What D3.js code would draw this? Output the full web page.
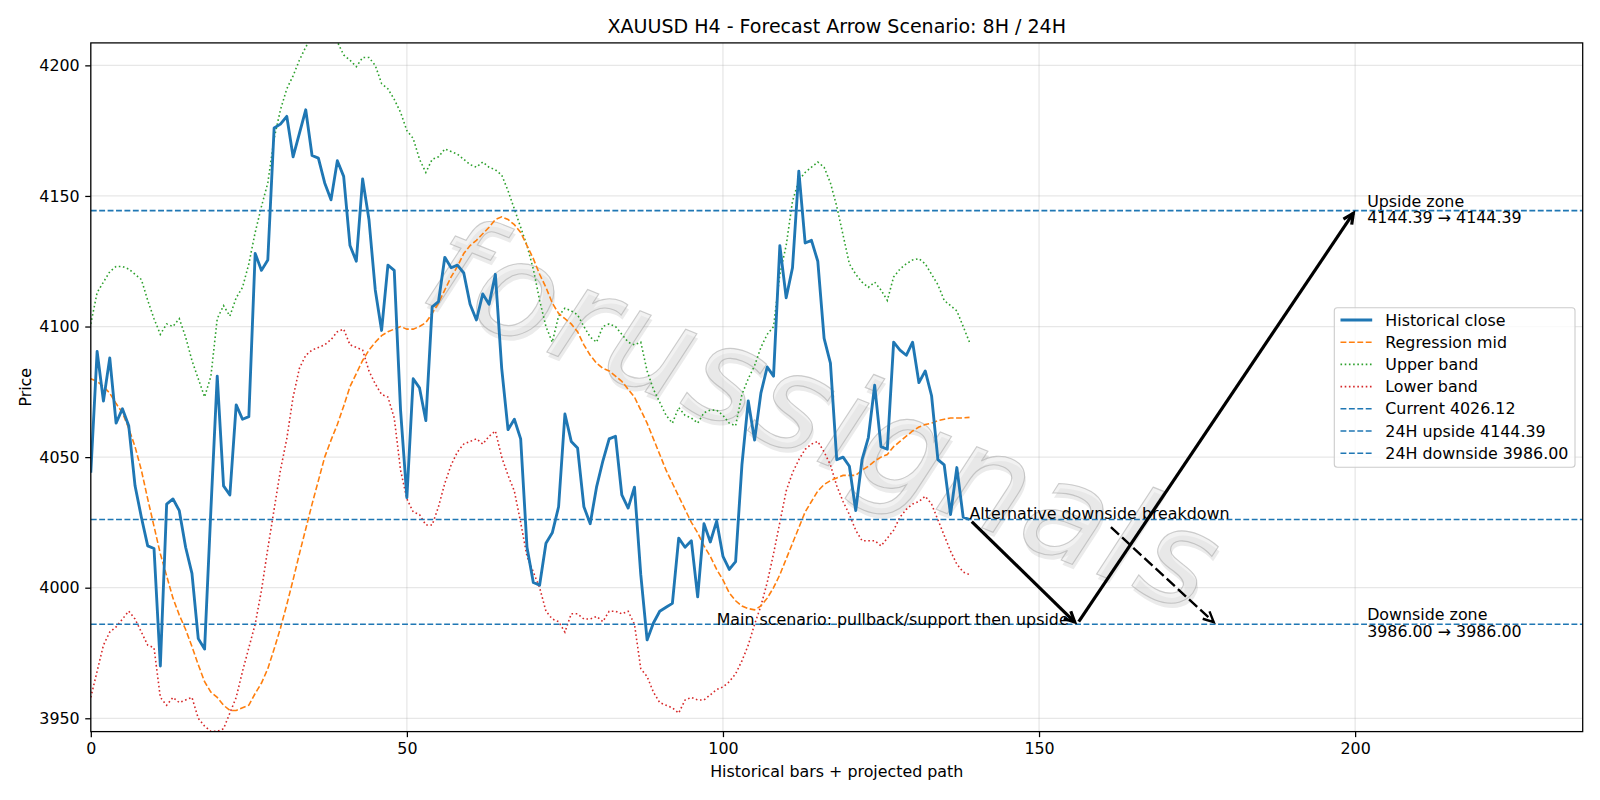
<!DOCTYPE html>
<html><head><meta charset="utf-8">
<script src="https://cdn.jsdelivr.net/npm/d3@7/dist/d3.min.js"></script>
<style>
html,body{margin:0;padding:0;background:#fff;}
svg{display:block;font-family:"DejaVu Sans",sans-serif;}
</style></head>
<body>
<svg id="chart" width="1600" height="800"></svg>
<script>
// ---------------- DATA ----------------
const historicalClose = [4044,4090.5,4071.5,4088,4063,4068.5,4062,4039,4027,4016,4015,3970,4032,4034,4029.5,4015.5,4005.5,3980.5,3976.5,4030,
4081,4039,4035.5,4070,4064.5,4065.5,4128,4121.5,4125.5,4176,4177.5,4180.5,4165,4174,4183,4165.5,4164.5,4155,4148.5,4163.5,
4157.5,4131,4125,4156.5,4141,4114,4098.5,4123.5,4121.5,4068,4034.5,4080,4076.5,4064,4107.5,4109.5,4126.5,4122.5,4123.5,4120.5,
4108.5,4102.5,4112.5,4108.5,4120,4084,4060.5,4064.5,4057,4015.5,4002,4001,4017,4021,4031,4066.5,4056,4053.5,4031,4024.5,
4038.5,4048.5,4057,4058,4035.5,4030.5,4038.5,4005,3980,3986.5,3991,3992.5,3994,4019,4015.5,4018,3996.5,4024.5,4017.5,4025.5,
4012,4007,4010,4047,4071.5,4056.5,4074.5,4084.5,4081,4131,4111,4122.5,4159.5,4132,4133,4125,4095.5,4086,4049,4050,
4046.5,4029.5,4049,4057.5,4077.5,4054,4053,4094,4091,4089,4094,4078.5,4083,4073.5,4049,4047,4028,4046,4027,4026.12];

const regressionMid = [4080,4079,4077,4074.5,4070.5,4067,4061,4054,4045,4034,4023.5,4013,4004.5,3996,3989.5,3984,3977.5,3970.5,3964,3960,
3958,3955,3953,3953,3954,3955,3959.5,3963.5,3969,3976.5,3984.5,3993.5,4003,4013,4022.5,4032,4041,4050,4056.5,4062.5,
4069.5,4077,4082,4087,4091,4094,4096.5,4098,4099,4100,4099,4099,4100,4101.5,4105,4109,4114,4119,4123,4128,
4131,4133,4135.5,4138,4141,4142,4141,4139,4136,4131,4126,4120,4115,4109,4105,4103,4101,4098,4093,4089,
4086,4084,4083,4081,4079,4076,4073,4068,4063,4057,4051,4045,4040,4035,4030,4025,4021,4016,4012,4007,
4003,3998,3995,3993,3992,3991.5,3993,3996,4000,4005,4011,4017,4023,4029,4033,4037,4039.5,4041,4042,4043,
4043,4043,4045,4046.5,4048.5,4050,4051,4054,4056,4058,4060,4061.5,4062.5,4063,4064,4064.5,4065,4065,4065,4065.2];

const upperBand = [4101,4113,4117,4121,4123,4123,4122,4120,4118,4110,4103,4097,4101,4100,4103,4096,4087,4080,4073,4081,
4103,4108,4104,4111,4115,4124,4136,4146,4155,4172,4183,4191,4196,4202,4207,4211,4214,4215,4213,4209,
4204,4202,4199.5,4203,4203,4200,4193,4191,4187,4182,4175,4172,4164,4159,4164,4165,4168,4167,4166,4164,
4162,4161,4163,4161,4160,4158,4152,4145,4138,4131,4122,4110,4100,4094,4104,4107,4106,4104.5,4100,4096,
4094,4100,4101,4100,4097,4094,4093,4094,4083,4076,4071,4066,4063,4069,4066,4065,4063,4067,4068,4068,
4066,4063,4062,4074,4080,4085,4092,4097,4100,4120,4131,4148,4156,4159,4161,4163,4161,4155,4146,4135,
4124,4120,4117,4115,4117,4114,4110,4119,4122,4124,4125.5,4126,4124,4120,4116,4110,4108,4106,4100,4094];

const lowerBand = [3958,3968,3978,3983,3985,3988,3991,3988,3983,3978,3977,3958,3955,3958,3956,3957,3958,3950,3947,3945,
3945,3946,3952,3958,3968,3977,3986,3999,4015,4030,4045,4057,4073,4084,4089,4091,4092,4093,4095,4098,
4099,4093,4092,4091,4083,4078,4074,4073,4065,4045,4034,4029,4028,4024,4024,4031,4040,4047,4052,4055,
4056,4057,4055,4058,4060,4050,4043,4037,4025,4012,4006,4000,3991,3988,3987,3983,3990,3990,3988,3988,
3989,3987,3991,3991,3990,3991,3986,3969,3966,3960,3956,3955,3954,3952,3957,3958,3957,3957,3959,3961,
3962,3964,3967,3972,3978,3986,3993,4002,4013,4025,4037,4044,4049,4053,4055,4056,4052,4047,4039,4033,
4028,4022,4018,4018,4018,4016,4019,4022,4027,4030,4032,4033,4035,4032,4026,4020,4014,4009,4006,4005];

const currentPrice = 4026.12;
const upsideLevel = 4144.39;
const downsideLevel = 3986.00;

const mainPathX = [139, 156, 200];
const mainPathY = [4026.12, 3986.00, 4144.39];
const altPathX = [161, 178];
const altPathY = [4024, 3986.00];

const xTicks = [0, 50, 100, 150, 200];
const yTicks = [3950, 4000, 4050, 4100, 4150, 4200];
const xDomain = [0, 236];
const yDomain = [3944.9, 4208.6];

const legendLabels = ["Historical close","Regression mid","Upper band","Lower band",
  "Current 4026.12","24H upside 4144.39","24H downside 3986.00"];

// ---------------- LAYOUT ----------------
const W = 1600, H = 800;
const L = 90.8, R = 1582.7, T = 42.9, B = 731.6;
const C = {blue:"#1f77b4", orange:"#ff7f0e", green:"#2ca02c", red:"#d62728"};
const PT = 1600/14/72;          // px per point (figure 14x7 in)
const FS = 10*PT;               // 15.87 px
const LW1 = 1*PT;
const DASH = `${3.7*PT},${1.6*PT}`;
const DOT = `${1*PT},${1.65*PT}`;

const svg = d3.select("#chart");
const x = d3.scaleLinear().domain(xDomain).range([L, R]);
const y = d3.scaleLinear().domain(yDomain).range([B, T]);

svg.append("rect").attr("width", W).attr("height", H).attr("fill", "#fff");

svg.append("defs").append("clipPath").attr("id","clip")
  .append("rect").attr("x", L).attr("y", T).attr("width", R-L).attr("height", B-T);

// grid
const grid = svg.append("g");
grid.selectAll(".gx").data(xTicks).enter().append("line")
  .attr("x1", d=>x(d)).attr("x2", d=>x(d)).attr("y1", T).attr("y2", B)
  .attr("stroke", "#b0b0b0").attr("stroke-opacity", 0.3).attr("stroke-width", 0.8*PT);
grid.selectAll(".gy").data(yTicks).enter().append("line")
  .attr("x1", L).attr("x2", R).attr("y1", d=>y(d)).attr("y2", d=>y(d))
  .attr("stroke", "#b0b0b0").attr("stroke-opacity", 0.3).attr("stroke-width", 0.8*PT);

const plot = svg.append("g").attr("clip-path", "url(#clip)");

// watermark
const wm = plot.append("g").attr("transform", `translate(${(L+R)/2 - 16},${y(4063)}) rotate(22)`);
const wmStyle = t => t.attr("text-anchor","middle").attr("dominant-baseline","middle")
  .attr("font-size", 134).attr("font-style","italic").attr("font-weight", 200).attr("letter-spacing", 3);
wm.append("text").attr("x", 3).attr("y", 4).call(wmStyle)
  .attr("fill", "#666").attr("fill-opacity", 0.13).text("forussignals");
wm.append("text").attr("x", 0).attr("y", 0).call(wmStyle)
  .attr("fill", "#e6e6e6").attr("fill-opacity", 0.5).attr("stroke", "#a0a0a0").attr("stroke-opacity",0.5).attr("stroke-width", 1.1)
  .text("forussignals");

const mkLine = arr => d3.line().x((d,i)=>x(i)).y(d=>y(d))(arr);

// bands
plot.append("path").attr("d", mkLine(upperBand)).attr("fill","none").attr("stroke", C.green)
  .attr("stroke-width", LW1).attr("stroke-dasharray", DOT);
plot.append("path").attr("d", mkLine(lowerBand)).attr("fill","none").attr("stroke", C.red)
  .attr("stroke-width", LW1).attr("stroke-dasharray", DOT);
plot.append("path").attr("d", mkLine(regressionMid)).attr("fill","none").attr("stroke", C.orange)
  .attr("stroke-width", LW1).attr("stroke-dasharray", DASH);

// horizontal levels
[currentPrice, upsideLevel, downsideLevel].forEach(v => {
  plot.append("line").attr("x1", L).attr("x2", R).attr("y1", y(v)).attr("y2", y(v))
    .attr("stroke", C.blue).attr("stroke-width", LW1).attr("stroke-dasharray", DASH);
});

// close
plot.append("path").attr("d", mkLine(historicalClose)).attr("fill","none").attr("stroke", C.blue)
  .attr("stroke-width", 1.8*PT).attr("stroke-linejoin","round").attr("stroke-linecap","butt");

// arrows
function arrow(x0,y0,x1,y1,dashed){
  const px0=x(x0), py0=y(y0), px1=x(x1), py1=y(y1);
  const ang = Math.atan2(py1-py0, px1-px0);
  const s = 2*PT;
  const ax0 = px0 + s*Math.cos(ang), ay0 = py0 + s*Math.sin(ang);
  const ax1 = px1 - s*Math.cos(ang), ay1 = py1 - s*Math.sin(ang);
  const w = dashed ? 1.5*PT : 2*PT;
  const g = plot.append("g");
  g.append("line").attr("x1",ax0).attr("y1",ay0).attr("x2",ax1).attr("y2",ay1)
    .attr("stroke","#000").attr("stroke-width", w)
    .attr("stroke-dasharray", dashed? `${3.7*1.5*PT*1.25},${1.6*1.5*PT*1.1}`:null);
  const hl = 11.5, ha = 0.45;
  const p = [[ax1 - hl*Math.cos(ang-ha), ay1 - hl*Math.sin(ang-ha)],[ax1,ay1],[ax1 - hl*Math.cos(ang+ha), ay1 - hl*Math.sin(ang+ha)]];
  g.append("path").attr("d", d3.line()(p)).attr("fill","none").attr("stroke","#000")
    .attr("stroke-width", w).attr("stroke-linejoin","miter");
}
for (let k=0;k<mainPathX.length-1;k++) arrow(mainPathX[k],mainPathY[k],mainPathX[k+1],mainPathY[k+1],false);
arrow(altPathX[0],altPathY[0],altPathX[1],altPathY[1],true);

// annotation texts
const ann = svg.append("g").attr("font-size", FS).attr("fill","#000");
ann.append("text").attr("x", x(139)).attr("y", y(currentPrice)-0.5).text("Alternative downside breakdown");
ann.append("text").attr("x", x(99)).attr("y", y(downsideLevel)+0.5)
  .text("Main scenario: pullback/support then upside");
function zone(v, title, sub){
  const t = ann.append("text").attr("x", x(201.9)).attr("y", y(v));
  t.append("tspan").attr("x", x(201.9)).attr("dy", -3.8).text(title);
  t.append("tspan").attr("x", x(201.9)).attr("dy", 16.2).text(sub);
}
zone(upsideLevel, "Upside zone", "4144.39 \u2192 4144.39");
zone(downsideLevel, "Downside zone", "3986.00 \u2192 3986.00");

// axes
const xAxis = d3.axisBottom(x).tickValues(xTicks).tickSize(3.5*PT).tickPadding(3.5*PT).tickFormat(d3.format("d"));
const yAxis = d3.axisLeft(y).tickValues(yTicks).tickSize(3.5*PT).tickPadding(3.5*PT).tickFormat(d3.format("d"));
const gx = svg.append("g").attr("transform", `translate(0,${B})`).call(xAxis);
const gy = svg.append("g").attr("transform", `translate(${L},0)`).call(yAxis);
[gx, gy].forEach(g => {
  g.select(".domain").remove();
  g.selectAll(".tick line").attr("stroke","#000").attr("stroke-width",0.8*PT);
  g.selectAll(".tick text").attr("font-size", FS).attr("fill","#000").attr("font-family","DejaVu Sans");
});

// frame
svg.append("rect").attr("x", L).attr("y", T).attr("width", R-L).attr("height", B-T)
  .attr("fill","none").attr("stroke","#000").attr("stroke-width",0.8*PT);

// title & labels
svg.append("text").attr("x", (L+R)/2).attr("y", 33).attr("text-anchor","middle")
  .attr("font-size", 12*PT).text("XAUUSD H4 - Forecast Arrow Scenario: 8H / 24H");
svg.append("text").attr("x", (L+R)/2).attr("y", 777).attr("text-anchor","middle")
  .attr("font-size", FS).text("Historical bars + projected path");
svg.append("text").attr("transform", `translate(31,${(T+B)/2}) rotate(-90)`).attr("text-anchor","middle")
  .attr("font-size", FS).text("Price");

// legend
const lg = svg.append("g");
const lx = 1334.3, ly = 307.7, lw = 240.7, lh = 159.6;
lg.append("rect").attr("x", lx).attr("y", ly).attr("width", lw).attr("height", lh).attr("rx", 3)
  .attr("fill","#fff").attr("fill-opacity",0.8).attr("stroke","#cccccc").attr("stroke-width",1.1);
const legStyles = [
  {c:C.blue, w:1.8*PT, d:null},
  {c:C.orange, w:LW1, d:DASH},
  {c:C.green, w:LW1, d:DOT},
  {c:C.red, w:LW1, d:DOT},
  {c:C.blue, w:LW1, d:DASH},
  {c:C.blue, w:LW1, d:DASH},
  {c:C.blue, w:LW1, d:DASH}
];
legendLabels.forEach((lab, i) => {
  const cy = 320 + i*22.2;
  const st = legStyles[i];
  lg.append("line").attr("x1", 1340.5).attr("x2", 1372.2).attr("y1", cy).attr("y2", cy)
    .attr("stroke", st.c).attr("stroke-width", st.w).attr("stroke-dasharray", st.d);
  lg.append("text").attr("x", 1385.3).attr("y", cy + 5.6).attr("font-size", FS).text(lab);
});
</script>
</body></html>
